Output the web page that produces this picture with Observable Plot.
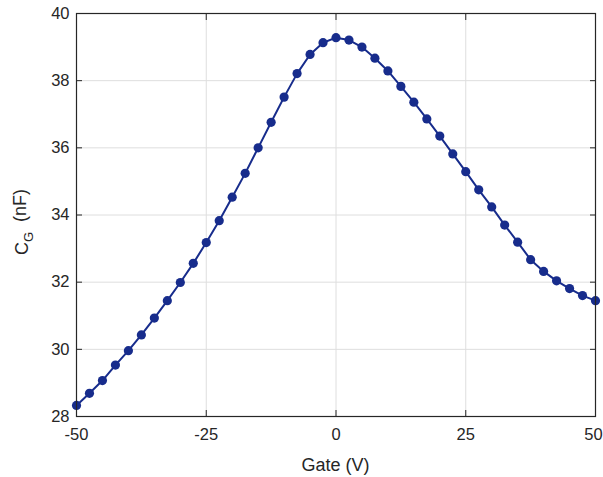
<!DOCTYPE html>
<html>
<head>
<meta charset="utf-8">
<script src="https://cdn.jsdelivr.net/npm/d3@7"></script>
<script src="https://cdn.jsdelivr.net/npm/@observablehq/plot@0.6"></script>
<style>
  body { margin: 0; background: #fff; }
  svg { display: block; }
</style>
</head>
<body>
<div id="chart"></div>
<script>
const gate = [-50, -47.5, -45, -42.5, -40, -37.5, -35, -32.5, -30, -27.5, -25, -22.5, -20, -17.5, -15, -12.5, -10, -7.5, -5, -2.5,
  0, 2.5, 5, 7.5, 10, 12.5, 15, 17.5, 20, 22.5, 25, 27.5, 30, 32.5, 35, 37.5, 40, 42.5, 45, 47.5, 50];
const cg = [28.33, 28.69, 29.07, 29.53, 29.96, 30.43, 30.93, 31.45, 31.99, 32.56, 33.18, 33.83, 34.53, 35.24, 36.0, 36.76, 37.51, 38.21, 38.78, 39.13,
  39.28, 39.21, 39.0, 38.67, 38.29, 37.83, 37.36, 36.86, 36.35, 35.82, 35.29, 34.75, 34.24, 33.70, 33.19, 32.67, 32.32, 32.04, 31.81, 31.60, 31.45];
const xTicks = [-50, -25, 0, 25, 50];
const yTicks = [28, 30, 32, 34, 36, 38, 40];

const data = gate.map((g, i) => ({gate: g, cg: cg[i]}));
const color = "#172c8c";
const axisColor = "#262626";

const chart = Plot.plot({
  width: 603,
  height: 477,
  marginLeft: 76,
  marginRight: 8,
  marginTop: 13,
  marginBottom: 61,
  style: {fontFamily: "'Liberation Sans', Arial, sans-serif", fontSize: "16.5px", color: axisColor, background: "#fff", overflow: "visible"},
  x: {domain: [-50, 50]},
  y: {domain: [28, 40]},
  marks: [
    Plot.gridX(xTicks, {stroke: "#dedede", strokeOpacity: 1}),
    Plot.gridY(yTicks, {stroke: "#dedede", strokeOpacity: 1}),
    Plot.line(data, {x: "gate", y: "cg", stroke: color, strokeWidth: 2}),
    Plot.dot(data, {x: "gate", y: "cg", fill: color, r: 4.6}),
    Plot.frame({stroke: axisColor, strokeWidth: 1.2}),
    Plot.axisX(xTicks, {anchor: "bottom", tickSize: -6, tickPadding: 18, label: null, stroke: axisColor, fill: axisColor, tickFormat: d => String(d)}),
    Plot.axisX(xTicks, {anchor: "top", tickSize: -6, tickFormat: () => "", label: null, stroke: axisColor}),
    Plot.axisY(yTicks, {anchor: "left", tickSize: -6, tickPadding: 13, label: null, stroke: axisColor, fill: axisColor, tickFormat: d => String(d)}),
    Plot.axisY(yTicks, {anchor: "right", tickSize: -6, tickFormat: () => "", label: null, stroke: axisColor})
  ]
});

const svg = d3.select(chart);
// nudge the rightmost x tick label so it stays inside the window
svg.selectAll("g[aria-label='x-axis tick label'] text")
  .filter(function() { return this.textContent === "50"; })
  .attr("dx", "-2");

svg.append("text")
  .attr("x", 335.5)
  .attr("y", 471)
  .attr("text-anchor", "middle")
  .attr("fill", axisColor)
  .style("font-size", "18px")
  .text("Gate (V)");

const yl = svg.append("text")
  .attr("transform", "translate(28,222) rotate(-90)")
  .attr("text-anchor", "middle")
  .attr("fill", axisColor)
  .style("font-size", "18px");
yl.append("tspan").text("C");
yl.append("tspan").attr("dy", "0.4em").style("font-size", "13px").text("G");
yl.append("tspan").attr("dy", "-0.4em").text("\u00a0\u00a0(nF)");

document.getElementById("chart").appendChild(chart);
</script>
</body>
</html>
